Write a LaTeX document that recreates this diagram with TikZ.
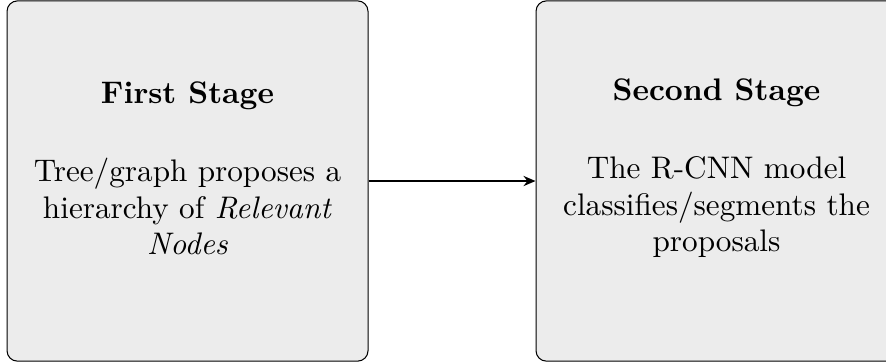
\documentclass[tikz,border=0pt]{standalone}
\usepackage{fontspec}
\setmainfont{lmroman10-regular.otf}[BoldFont=lmroman10-bold.otf, ItalicFont=lmroman10-italic.otf]
\usepackage{xcolor}
\usetikzlibrary{arrows.meta}

\begin{document}
\begin{tikzpicture}[
  font=\fontsize{12}{14.1}\selectfont,
  stagebox/.style={rectangle, rounded corners=4pt, draw=black, line width=0.4pt, fill=gray!15,
                   minimum width=4.88cm, minimum height=4.87cm, inner sep=0pt},
  stitle/.style={font=\fontsize{12}{14.1}\selectfont\bfseries, anchor=base, inner sep=0pt},
  sbody/.style={align=center, anchor=base, inner sep=0pt},
  flow/.style={-{Stealth[length=4.6pt, width=3.9pt, inset=1.5pt]}, thick, draw=black},
]

% ── Frame: page size, the right stage runs past its edge ─────────────────────
\useasboundingbox (0,0) rectangle (11.977,4.894);
\clip (0,0) rectangle (11.977,4.894);

% ── Stages ──────────────────────────────────────────────────────────────────
\node[stagebox] (first)  at (2.535,2.447) {};
\node[stagebox] (second) at (9.686,2.447) {};

\node[stitle] (tfirst)  at ([yshift=1.054cm]first.center)  {First Stage};
\node[stitle] (tsecond) at ([yshift=1.085cm]second.center) {Second Stage};

% body text sits on the baseline of its last line
\node[sbody] (bfirst)  at ([yshift=-1.00cm]first.center)
  {Tree/graph proposes a\\hierarchy of \textit{Relevant}\\\textit{Nodes}};
\node[sbody] (bsecond) at ([yshift=-0.956cm]second.center)
  {The R-CNN model\\classifies/segments the\\proposals};

% ── Connector ───────────────────────────────────────────────────────────────
\draw[flow] (first) -- (second);

\end{tikzpicture}
\end{document}
